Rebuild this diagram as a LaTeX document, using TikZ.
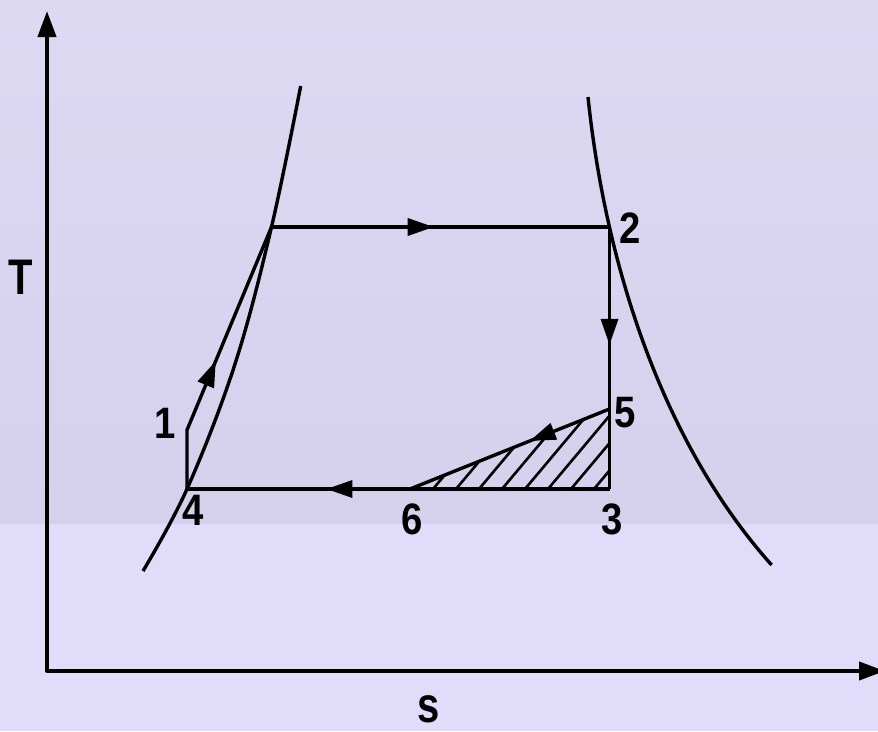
\documentclass[tikz,border=0pt]{standalone}
\usepackage{fontspec}
\setmainfont{Liberation Sans}
\usetikzlibrary{arrows.meta,decorations.markings}
\definecolor{skyc}{RGB}{221,217,243}
\definecolor{hazec}{RGB}{213,209,237}
\definecolor{floorc}{RGB}{224,220,250}
\definecolor{inkc}{RGB}{0,0,0}

\begin{document}
\begin{tikzpicture}[x=1pt, y=-1pt, >={Triangle[length=26pt,width=18pt]}, line join=round,
  cycleline/.style={inkc, line width=3.4pt},
  flowmark/.style={postaction={decorate, decoration={markings,
      mark=at position #1 with {\arrow{Triangle[length=26pt,width=17pt]}}}}},
  statelbl/.style={inkc, font=\bfseries\fontsize{44}{50}\selectfont, xscale=0.87, inner sep=0pt},
  axislbl/.style={inkc, font=\bfseries\fontsize{50}{56}\selectfont, xscale=0.8, inner sep=0pt}]

  % backdrop: faded upper band, plain lavender floor
  \useasboundingbox (0,0) rectangle (878,731);
  \fill[floorc] (0,0) rectangle (878,731);
  \shade[top color=skyc, bottom color=hazec] (0,0) rectangle (878,523);

  % state points of the cycle
  \coordinate (p4) at (187,489);
  \coordinate (p1) at (187,430);
  \coordinate (pa) at (271.5,227);
  \coordinate (p2) at (609.5,227);
  \coordinate (p5) at (609.5,409);
  \coordinate (p3) at (609.5,489);
  \coordinate (p6) at (410,489);
  \coordinate (tend) at (47,11);
  \coordinate (send) at (885,671);

  % axes
  \draw[<->, inkc, line width=4pt] (tend) |- (send);
  \node[axislbl] (lT) at (21,277.5) {T};
  \node[axislbl] (ls) at (429,709) {s};

  % saturation dome: liquid line (left), vapour line (right)
  \draw[cycleline] plot[smooth, tension=0.6] coordinates {(143,571) (187,489) (235,364) (271.5,227) (300.7,86)};
  \draw[cycleline] (588,97) .. controls (605,260) and (660,440) .. (771.6,565);

  % hatched triangle 6-3-5
  \begin{scope}
    \clip (p6) -- (p3) -- (p5) -- cycle;
    \foreach \x in {433,456,...,602}
      \draw[inkc, line width=2.6pt] (\x,489) -- ++(70,-83.4);
  \end{scope}

  % cycle paths with flow direction
  \draw[cycleline, flowmark=0.48] (pa) -- (p2);
  \draw[cycleline, flowmark=0.45] (p2) -- (p3);
  \draw[cycleline, flowmark=0.40] (p5) -- (p6);
  \draw[cycleline, flowmark=0.67] (p3) -- (p4);
  \draw[cycleline, flowmark=0.48] (p4) -- (p1) -- (pa);

  % state labels
  \node[statelbl] (l1) at (165.5,423.5) {1};
  \node[statelbl] (l2) at (630.5,228) {2};
  \node[statelbl] (l3) at (612,519.5) {3};
  \node[statelbl] (l4) at (193,510.5) {4};
  \node[statelbl] (l5) at (625,413) {5};
  \node[statelbl] (l6) at (412,519) {6};

\end{tikzpicture}
\end{document}
